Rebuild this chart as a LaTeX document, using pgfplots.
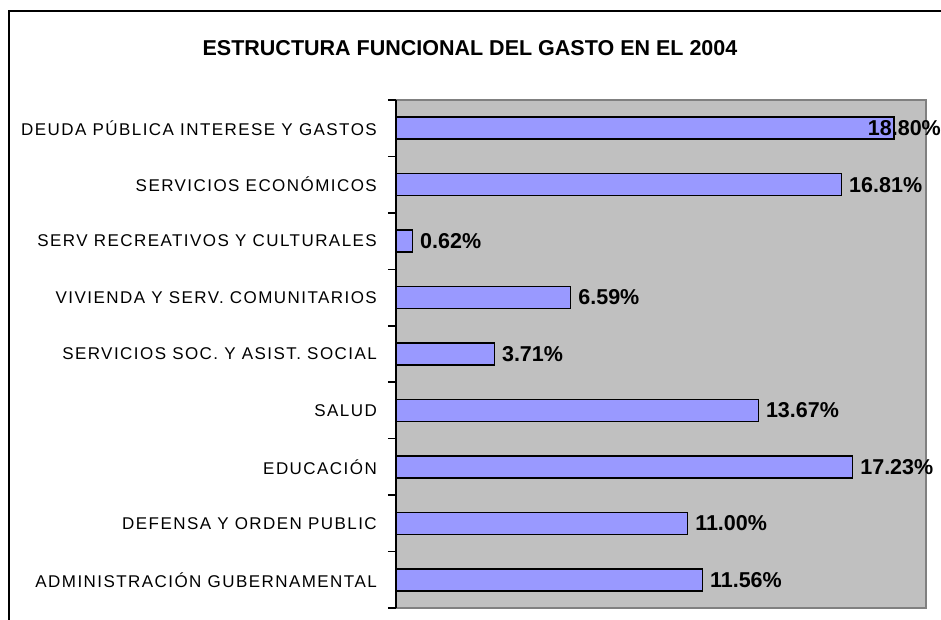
\documentclass[border=0pt]{standalone}
\usepackage{fontspec}
\setmainfont{Liberation Sans}
\newfontfamily\tickfont[LetterSpace=8.5]{Liberation Sans}
\usepackage{pgfplots}
\pgfplotsset{compat=1.18}
\definecolor{barblue}{HTML}{9999FF}
\definecolor{plotgray}{HTML}{C0C0C0}
\definecolor{framegray}{HTML}{808080}
\begin{document}
\begin{tikzpicture}[x=1pt,y=1pt]
\useasboundingbox (-396,-12) rectangle (545,608);
\fill[white] (-396,-12) rectangle (545,608);
\draw[line width=2.2pt] (-387,-40) -- (-387,597) -- (600,597);
\node[font=\fontsize{21.5}{25}\selectfont\bfseries] at (74,560) {ESTRUCTURA FUNCIONAL DEL GASTO EN EL 2004};
\begin{axis}[
  at={(0,0)}, anchor=south west, scale only axis,
  width=530pt, height=508pt,
  xbar, bar shift=0pt, bar width=22pt,
  xmin=0, xmax=20, ymin=-0.5, ymax=8.5,
  clip=false,
  axis x line=none, axis y line*=left,
  y axis line style={line width=2pt, black},
  axis background/.style={fill=plotgray, draw=framegray, line width=1.5pt},
  ytick={0,...,8},
  yticklabels={ADMINISTRACIÓN GUBERNAMENTAL, DEFENSA Y ORDEN PUBLIC, EDUCACIÓN, SALUD, SERVICIOS SOC. Y ASIST. SOCIAL, VIVIENDA Y SERV. COMUNITARIOS, SERV RECREATIVOS Y CULTURALES, SERVICIOS ECONÓMICOS, DEUDA PÚBLICA INTERESE Y GASTOS},
  minor ytick={-0.5,0.5,...,8.5},
  major tick length=0pt, minor tick length=8pt, tick align=outside,
  tick style={line width=1.5pt, black},
  yticklabel style={font=\tickfont\fontsize{17}{20}\selectfont, inner sep=0pt, xshift=-19pt},
  point meta=explicit symbolic,
  nodes near coords,
  every node near coord/.append style={font=\fontsize{21.5}{24}\selectfont\bfseries, anchor=west, inner sep=0pt, xshift=7pt, black},
]
\addplot[fill=barblue, draw=black, line width=1.5pt, bar shift=0pt] coordinates {
  (11.56,0) [11.56\%]
  (11.00,1) [11.00\%]
  (17.23,2) [17.23\%]
  (13.67,3) [13.67\%]
  (3.71,4) [3.71\%]
  (6.59,5) [6.59\%]
  (0.62,6) [0.62\%]
  (16.81,7) [16.81\%]
};
\addplot[fill=barblue, draw=black, line width=1.5pt, bar shift=0pt,
  every node near coord/.append style={xshift=-34pt}] coordinates {
  (18.80,8) [18.80\%]
};
\end{axis}
\end{tikzpicture}
\end{document}
